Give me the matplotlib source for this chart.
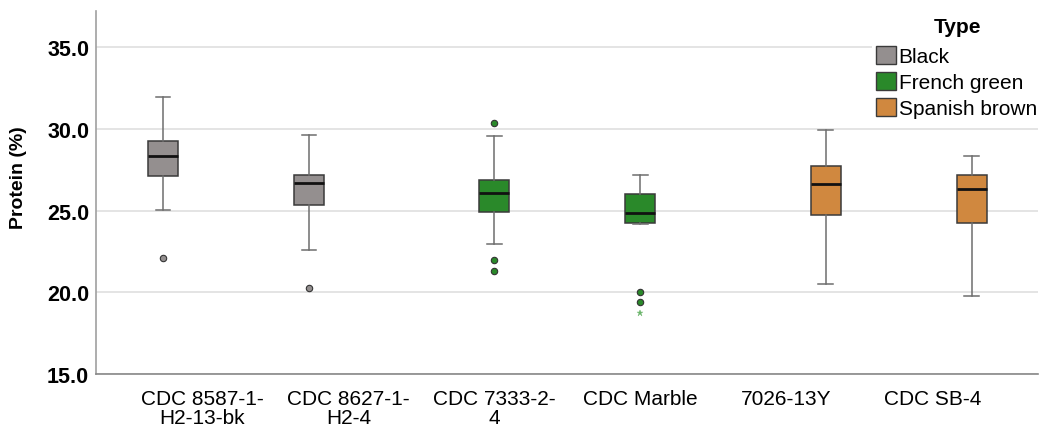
import matplotlib
matplotlib.use("Agg")
import matplotlib.pyplot as plt
from matplotlib.patches import Patch

plt.rcParams['font.family'] = ['Liberation Sans', 'DejaVu Sans']

# Protein content (%) per variety, summarised as box statistics
varieties = ["CDC 8587-1-\nH2-13-bk", "CDC 8627-1-\nH2-4", "CDC 7333-2-\n4",
             "CDC Marble", "7026-13Y", "CDC SB-4"]
variety_type = ["Black", "Black", "French green", "French green",
                "Spanish brown", "Spanish brown"]
whisker_low = [25.06, 22.60, 22.98, 24.18, 20.53, 19.80]
q1 = [27.12, 25.35, 24.90, 24.27, 24.76, 24.23]
median = [28.33, 26.72, 26.10, 24.84, 26.65, 26.35]
q3 = [29.25, 27.20, 26.86, 26.00, 27.72, 27.20]
whisker_high = [31.96, 29.65, 29.55, 27.19, 29.92, 28.37]
outliers = [[22.12], [20.27], [30.37, 21.98, 21.29], [20.04, 19.41], [], []]
extremes = [[], [], [], [18.74], [], []]

type_names = ["Black", "French green", "Spanish brown"]
type_colors = {"Black": "#948f8f", "French green": "#2a892a", "Spanish brown": "#d0883f"}
extreme_colors = {"Black": "#b0acac", "French green": "#6bb56b", "Spanish brown": "#e0a870"}
yticks = [15.0, 20.0, 25.0, 30.0, 35.0]

W, H = 1041, 427
fig = plt.figure(figsize=(W / 100, H / 100), dpi=100)
ax = fig.add_axes([96 / W, (H - 375) / H, (1038 - 96) / W, (375 - 12) / H])

slot = 0.27
box_w = 0.205
for i, v in enumerate(varieties):
    t = variety_type[i]
    pos = i + (type_names.index(t) - 1) * slot
    stats = [dict(whislo=whisker_low[i], q1=q1[i], med=median[i], q3=q3[i],
                  whishi=whisker_high[i], fliers=outliers[i])]
    ax.bxp(stats, positions=[pos], widths=box_w, patch_artist=True,
           showfliers=True, manage_ticks=False,
           boxprops=dict(facecolor=type_colors[t], edgecolor="#3a3a3a", linewidth=1.1),
           medianprops=dict(color="#111111", linewidth=2.0),
           whiskerprops=dict(color="#6e6e6e", linewidth=1.1),
           capprops=dict(color="#6e6e6e", linewidth=1.1),
           capwidths=box_w / 2,
           flierprops=dict(marker="o", markersize=4.6, markerfacecolor=type_colors[t],
                           markeredgecolor="#333333", markeredgewidth=0.8, linestyle="none"))
    if extremes[i]:
        ax.plot([pos] * len(extremes[i]), extremes[i], linestyle="none", marker="*",
                markersize=5, color=extreme_colors[t], markeredgewidth=0.3, zorder=3)

ax.set_xlim(-0.729, 5.723)
ax.set_ylim(15.0, 37.22)
ax.set_yticks(yticks)
ax.set_yticklabels([f"{v:.1f}" for v in yticks], fontsize=15.5, fontweight="bold")
ax.set_xticks(range(len(varieties)))
ax.set_xticklabels(varieties, fontsize=15, linespacing=1.0)
ax.tick_params(axis="both", length=0)
ax.tick_params(axis="y", pad=5)
ax.tick_params(axis="x", pad=11)

ax.yaxis.grid(True, color="#dcdcdc", linewidth=1.1)
ax.set_axisbelow(True)
for s in ["top", "right"]:
    ax.spines[s].set_visible(False)
ax.spines["left"].set_color("#a0a0a0")
ax.spines["bottom"].set_color("#888888")
ax.spines["left"].set_linewidth(1.2)
ax.spines["bottom"].set_linewidth(1.2)

fig.text(18.5 / W, 1 - 178 / H, "Protein (%)", rotation=90, ha="center", va="center",
         fontsize=14, fontweight="bold")

handles = [Patch(facecolor=type_colors[t], edgecolor="#3a3a3a", linewidth=1.0) for t in type_names]
leg = fig.legend(handles, type_names, loc="upper right",
                 bbox_to_anchor=(1.0, 1 - 43 / H), fontsize=15,
                 handlelength=0.95, handleheight=0.95, handletextpad=0.12,
                 labelspacing=0.28, borderpad=0.2, borderaxespad=0.0,
                 frameon=True, fancybox=False, framealpha=1.0)
leg.get_frame().set_facecolor("white")
leg.get_frame().set_edgecolor("none")
# Legend heading drawn on its own above a white strip that hides the grid line
fig.text(958 / W, 1 - 33 / H, "Type", ha="center", va="baseline",
         fontsize=15, fontweight="bold")
fig.patches.append(plt.Rectangle((872 / W, 1 - 46 / H), 1 - 872 / W, 38 / H,
                                 transform=fig.transFigure, facecolor="white",
                                 edgecolor="none", zorder=2))

fig.savefig("out.png", dpi=100)
